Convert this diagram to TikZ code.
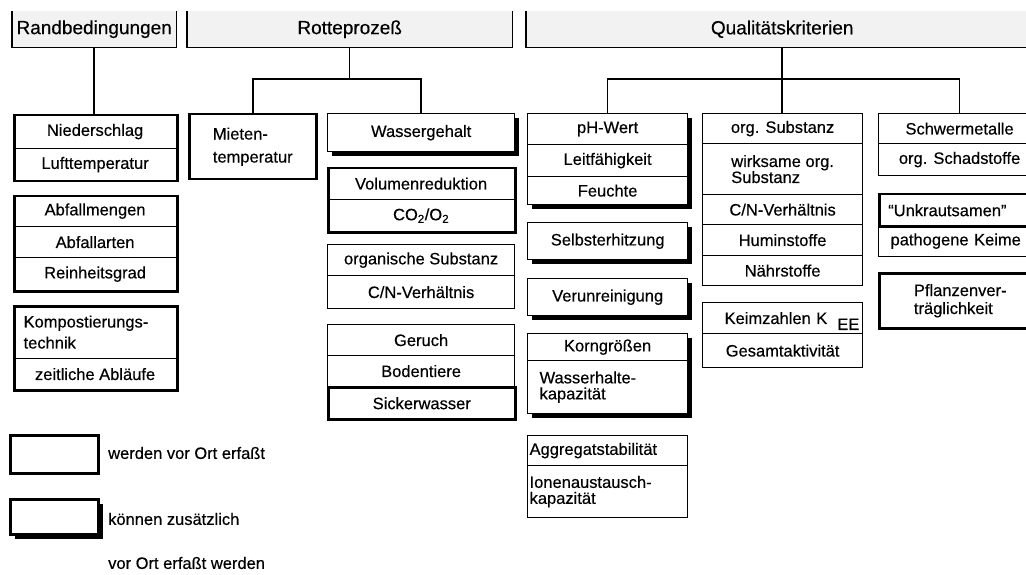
\documentclass[tikz,border=0pt]{standalone}
\usepackage{fontspec}
\setmainfont{Liberation Sans}[BoldFont={Liberation Sans}, BoldFeatures={FakeBold=0.4}]
\usetikzlibrary{shadows}
\newcommand{\bodyfont}{\fontsize{16.5}{17}\selectfont\bfseries}
\newcommand{\bodylead}[1]{\fontsize{16.5}{#1}\selectfont\bfseries}
\newcommand{\headfont}{\fontsize{19}{21}\selectfont\bfseries}
\tikzset{
  header/.style={fill=gray!10, inner sep=0pt, anchor=north west, font=\headfont},
  headline/.style={line width=1.7pt},
  conn/.style={line width=1.5pt},
  frame/.style={inner sep=0pt, anchor=north west, font=\bodyfont, align=center},
  thinframe/.style={frame, draw, line width=1.4pt},
  thickframe/.style={frame, draw, line width=2.5pt},
  shadowframe/.style={frame, draw, line width=1.4pt, fill=white,
    drop shadow={shadow xshift=4.5pt, shadow yshift=-4.5pt, opacity=1, fill=black}},
  cell/.style={draw, line width=1.2pt, inner sep=0pt, anchor=north west,
    font=\bodyfont, align=center},
  lcell/.style={cell, align=left},
  legendtext/.style={anchor=west, font=\bodyfont, inner sep=0pt},
}
\begin{document}
\begin{tikzpicture}[x=1pt, y=-1pt]
\useasboundingbox (0,0) rectangle (1026,575);
\clip (0,0) rectangle (1026,575);

% ---------- headers (open at the top) ----------
\node[header, minimum width=164pt, minimum height=36pt] (rand) at (12,11) {Randbedingungen};
\node[header, minimum width=325pt, minimum height=36pt] (rotte) at (187,11) {Rotteprozeß};
\node[header, minimum width=512pt, minimum height=36pt] (quali) at (526,11) {Qualitätskriterien};
\foreach \h in {rand, rotte, quali}
  \draw[headline] (\h.north west) |- (\h.south east) -- (\h.north east);

% ---------- Randbedingungen ----------
\node[thickframe, minimum width=163pt, minimum height=66pt] (klima) at (13,114) {};
\node[cell, minimum width=163pt, minimum height=34pt] (nied) at (13,114) {Niederschlag};
\node[cell, minimum width=163pt, minimum height=32pt] (luft) at (13,148) {Lufttemperatur};

\node[thickframe, minimum width=163pt, minimum height=95pt] (abfall) at (13,195) {};
\node[cell, minimum width=163pt, minimum height=31pt] (menge) at (13,195) {Abfallmengen};
\node[cell, minimum width=163pt, minimum height=31pt] (arten) at (13,226) {Abfallarten};
\node[cell, minimum width=163pt, minimum height=33pt] (rein) at (13,257) {Reinheitsgrad};

\node[thickframe, minimum width=163pt, minimum height=84pt] (technik) at (13,305) {};
\node[lcell, text width=143pt, inner xsep=10pt, minimum width=163pt, minimum height=53pt,
  font=\bodylead{21}] (komp) at (13,305) {Kompostierungs-\\technik};
\node[cell, minimum width=163pt, minimum height=31pt] (ablauf) at (13,358) {zeitliche Abläufe};

% ---------- Rotteprozess ----------
\node[thickframe, minimum width=127pt, minimum height=65pt, align=left,
  font=\bodylead{23}] (mieten) at (188,113) {Mieten-\\temperatur};

\node[shadowframe, minimum width=187pt, minimum height=38pt] (wasser) at (327,113) {Wassergehalt};

\node[thickframe, minimum width=187pt, minimum height=64pt] (volumen) at (327,167) {};
\node[cell, minimum width=187pt, minimum height=32pt] (volred) at (327,167) {Volumenreduktion};
\node[cell, minimum width=187pt, minimum height=32pt] (co) at (327,199) {CO\textsubscript{2}/O\textsubscript{2}};

\node[thinframe, minimum width=187pt, minimum height=64pt] (organik) at (327,244) {};
\node[cell, minimum width=187pt, minimum height=31pt] (orgsubst) at (327,244) {organische Substanz};
\node[cell, minimum width=187pt, minimum height=33pt] (cnrotte) at (327,275) {C/N-Verhältnis};

\node[thinframe, minimum width=187pt, minimum height=94pt] (sinne) at (327,324) {};
\node[cell, minimum width=187pt, minimum height=31pt] (geruch) at (327,324) {Geruch};
\node[cell, minimum width=187pt, minimum height=31pt] (boden) at (327,355) {Bodentiere};
\node[cell, line width=2.5pt, minimum width=187pt, minimum height=32pt] (sicker) at (327,386) {Sickerwasser};

% ---------- Qualitaetskriterien, first column ----------
\node[shadowframe, minimum width=160pt, minimum height=91pt] (ph) at (527,113) {};
\node[cell, minimum width=160pt, minimum height=31pt] (phwert) at (527,113) {pH-Wert};
\node[cell, minimum width=160pt, minimum height=32pt] (leit) at (527,144) {Leitfähigkeit};
\node[cell, minimum width=160pt, minimum height=28pt] (feucht) at (527,176) {Feuchte};

\node[shadowframe, minimum width=160pt, minimum height=37pt] (selbst) at (527,222) {Selbsterhitzung};
\node[shadowframe, minimum width=160pt, minimum height=37pt] (verun) at (527,278) {Verunreinigung};

\node[shadowframe, minimum width=160pt, minimum height=80pt] (korn) at (527,333) {};
\node[cell, minimum width=160pt, minimum height=27pt] (korngr) at (527,333) {Korngrößen};
\node[lcell, text width=136pt, inner xsep=12pt, minimum width=160pt, minimum height=53pt,
  font=\bodylead{16}] (whk) at (527,360) {Wasserhalte-\\kapazität};

\node[thinframe, minimum width=160pt, minimum height=82pt] (aggr) at (527,435) {};
\node[lcell, text width=156pt, inner xsep=2pt, minimum width=160pt, minimum height=30pt] (aggstab) at (527,435) {Aggregatstabilität};
\node[lcell, text width=156pt, inner xsep=2pt, minimum width=160pt, minimum height=52pt,
  font=\bodylead{16}] (iak) at (527,465) {Ionenaustausch-\\kapazität};

% ---------- Qualitaetskriterien, second column ----------
\node[thinframe, minimum width=160pt, minimum height=172pt] (orgs) at (702,113) {};
\node[cell, minimum width=160pt, minimum height=30pt] (orgsub) at (702,113) {org. Substanz};
\node[cell, align=left, minimum width=160pt, minimum height=51pt, font=\bodylead{16}] (wirk) at (702,143) {wirksame org.\\Substanz};
\node[cell, minimum width=160pt, minimum height=30pt] (cn) at (702,194) {C/N-Verhältnis};
\node[cell, minimum width=160pt, minimum height=31pt] (humin) at (702,224) {Huminstoffe};
\node[cell, minimum width=160pt, minimum height=30pt] (naehr) at (702,255) {Nährstoffe};

\node[thinframe, minimum width=160pt, minimum height=65pt] (keim) at (702,302) {};
\node[lcell, text width=160pt, inner xsep=0pt, minimum width=160pt, minimum height=31pt] (keimz) at (702,302)
  {\hspace*{22pt}Keimzahlen K\hspace{10pt}\smash{\raisebox{-6pt}{EE}}};
\node[cell, minimum width=160pt, minimum height=34pt] (gesamt) at (702,333) {Gesamtaktivität};

% ---------- Qualitaetskriterien, third column ----------
\node[thinframe, minimum width=162pt, minimum height=62pt] (schwer) at (878,113) {};
\node[cell, minimum width=162pt, minimum height=30pt] (metalle) at (878,113) {Schwermetalle};
\node[cell, minimum width=162pt, minimum height=32pt] (schad) at (878,143) {org. Schadstoffe};

\node[thinframe, minimum width=162pt, minimum height=63pt] (hygiene) at (878,193) {};
\node[lcell, line width=2.5pt, text width=144pt, inner xsep=9pt, minimum width=162pt, minimum height=32pt] (unkraut) at (878,193) {“Unkrautsamen”};
\node[lcell, text width=150pt, inner xsep=12pt, minimum width=162pt, minimum height=31pt] (patho) at (878,225) {pathogene Keime};

\node[thickframe, minimum width=162pt, minimum height=55pt, align=left,
  font=\bodylead{18}] (pflanze) at (878,272) {Pflanzenver-\\träglichkeit};

% ---------- connectors ----------
\draw[conn] (rand.south) -- (rand.south |- klima.north);

\coordinate (rj) at (rotte.south |- 0,79);
\draw[conn] (rotte.south) -- (rj);
\draw[conn] (mieten.north) |- (rj) -| (wasser.north);

\coordinate (qj) at (quali.south |- 0,79);
\draw[conn] (quali.south) -- (quali.south |- orgs.north);
\draw[conn] (ph.north) |- (qj) -| (schwer.north);

% ---------- legend ----------
\node[thickframe, line width=2.8pt, minimum width=88pt, minimum height=38pt] (legA) at (9,434) {};
\node[shadowframe, line width=2.8pt, minimum width=88pt, minimum height=35pt] (legB) at (9,498) {};
\node[legendtext] (legAtext) at (108,453) {werden vor Ort erfaßt};
\node[legendtext] (legBtext) at (108,519) {können zusätzlich};
\node[legendtext] (legCtext) at (108,563) {vor Ort erfaßt werden};
\end{tikzpicture}
\end{document}
